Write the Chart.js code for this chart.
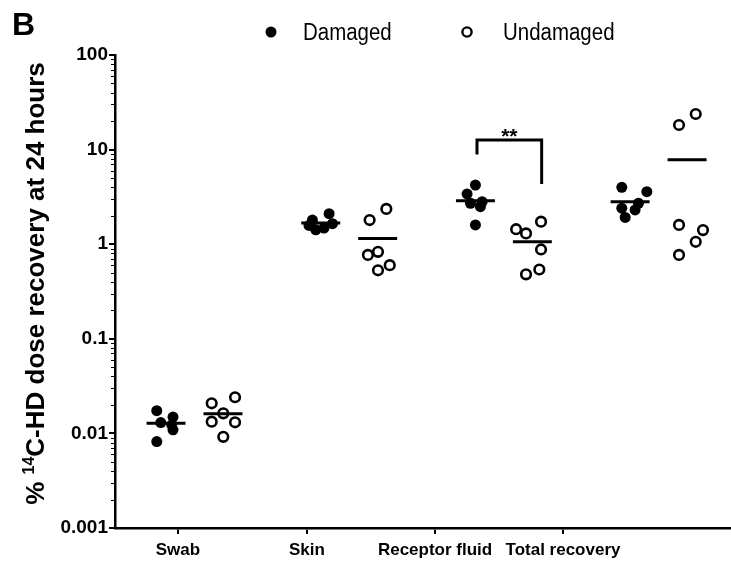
<!DOCTYPE html>
<html>
<head>
<meta charset="utf-8">
<script src="https://cdn.jsdelivr.net/npm/chart.js@4.4.1/dist/chart.umd.min.js"></script>
<style>
  body { margin: 0; background: #fff; }
  canvas { display: block; }
</style>
</head>
<body>
<canvas id="recovery" width="731" height="564"></canvas>
<script>
var categories = ["Swab", "Skin", "Receptor fluid", "Total recovery"];
var yTickValues = [0.001, 0.01, 0.1, 1, 10, 100];
var yTickLabels = ["0.001", "0.01", "0.1", "1", "10", "100"];

// % of applied dose recovered, one row per compartment, six donors each
var damaged = [
  [0.0174, 0.0130, 0.0149, 0.0123, 0.0109, 0.0082],
  [1.80, 2.10, 1.42, 1.48, 1.65, 1.58],
  [4.22, 3.40, 2.71, 2.81, 2.49, 1.60],
  [3.99, 3.59, 2.40, 2.71, 2.30, 1.92]
];
var undamaged = [
  [0.0208, 0.0241, 0.0163, 0.0133, 0.0131, 0.0092],
  [1.80, 2.36, 0.77, 0.83, 0.53, 0.60],
  [1.44, 1.30, 1.73, 0.88, 0.48, 0.54],
  [18.2, 23.8, 1.60, 1.41, 1.06, 0.77]
];

// sideways spread of the dots inside each column
var damagedJitter = [
  [-0.060, -0.034, 0.045, 0.037, 0.045, -0.060],
  [-0.054, 0.054, -0.032, 0.021, 0.076, -0.076],
  [0, -0.054, -0.032, 0.043, 0.032, 0],
  [-0.054, 0.108, -0.054, 0.054, 0.032, -0.032]
];
var undamagedJitter = [
  [-0.073, 0.078, 0.002, -0.073, 0.078, 0.002],
  [-0.052, 0.056, -0.063, 0.002, 0.002, 0.078],
  [-0.105, -0.041, 0.056, 0.056, -0.041, 0.045],
  [-0.052, 0.056, -0.052, 0.103, 0.056, -0.052]
];

// where the category names sit on the x axis
var xLabelPos = [-0.107, 0.727, 1.555, 2.382];

// ** bracket over receptor fluid: x ends, then y of left foot, top, right foot
var bracketX = [1.826, 2.244];
var bracketY = [8.9, 12.6, 4.33];

var GROUP_SHIFT = 0.184;
var MEAN_HALF = 0.126;
var FONT = "'Liberation Sans', Arial, sans-serif";

function mean(arr) {
  var s = 0;
  for (var i = 0; i < arr.length; i++) s += arr[i];
  return s / arr.length;
}

function points(values, jitter, shift) {
  var out = [];
  values.forEach(function (row, i) {
    row.forEach(function (v, j) {
      out.push({ x: i + shift + jitter[i][j], y: v });
    });
  });
  return out;
}

function meanLine(row, cx) {
  var m = mean(row);
  return {
    type: "scatter",
    showLine: true,
    data: [{ x: cx - MEAN_HALF, y: m }, { x: cx + MEAN_HALF, y: m }],
    borderColor: "#000",
    borderWidth: 3,
    pointRadius: 0,
    order: 0
  };
}

var datasets = [
  {
    label: "Damaged",
    data: points(damaged, damagedJitter, -GROUP_SHIFT),
    pointRadius: 5.5,
    pointBackgroundColor: "#000",
    pointBorderWidth: 0,
    order: 2
  },
  {
    label: "Undamaged",
    data: points(undamaged, undamagedJitter, GROUP_SHIFT),
    pointRadius: 4.8,
    pointBackgroundColor: "#fff",
    pointBorderColor: "#000",
    pointBorderWidth: 2.6,
    order: 1
  }
];

for (var i = 0; i < categories.length; i++) {
  datasets.push(meanLine(damaged[i], i - GROUP_SHIFT));
  datasets.push(meanLine(undamaged[i], i + GROUP_SHIFT));
}

datasets.push({
  type: "scatter",
  showLine: true,
  data: [
    { x: bracketX[0], y: bracketY[0] },
    { x: bracketX[0], y: bracketY[1] },
    { x: bracketX[1], y: bracketY[1] },
    { x: bracketX[1], y: bracketY[2] }
  ],
  borderColor: "#000",
  borderWidth: 3,
  pointRadius: 0,
  order: 0
});

// panel letter, legend, y title, minor log ticks and the significance stars
var decorations = {
  id: "decorations",
  afterDraw: function (chart) {
    var ctx = chart.ctx;
    var y = chart.scales.y;
    var x = chart.scales.x;
    var left = chart.chartArea.left;
    ctx.save();

    // minor ticks
    ctx.strokeStyle = "#000";
    ctx.lineWidth = 1;
    for (var k = -3; k < 2; k++) {
      for (var m = 2; m < 10; m++) {
        var py = Math.round(y.getPixelForValue(m * Math.pow(10, k))) + 0.5;
        ctx.beginPath();
        ctx.moveTo(left - 4, py);
        ctx.lineTo(left, py);
        ctx.stroke();
      }
    }

    ctx.fillStyle = "#000";

    // B
    ctx.font = "bold 32px " + FONT;
    ctx.textAlign = "left";
    ctx.textBaseline = "alphabetic";
    ctx.fillText("B", 12, 35);

    // legend
    ctx.beginPath();
    ctx.arc(271, 32, 5.5, 0, Math.PI * 2);
    ctx.fill();
    ctx.beginPath();
    ctx.arc(467, 32, 4.6, 0, Math.PI * 2);
    ctx.lineWidth = 2.4;
    ctx.stroke();
    ctx.font = "23px " + FONT;
    [["Damaged", 303], ["Undamaged", 503]].forEach(function (it) {
      ctx.save();
      ctx.translate(it[1], 40);
      ctx.scale(0.89, 1);
      ctx.fillText(it[0], 0, 0);
      ctx.restore();
    });

    // y title with superscript 14
    var big = "bold 26px " + FONT;
    var small = "bold 16px " + FONT;
    var parts = [["% ", big, 0], ["14", small, -10], ["C-HD dose recovery at 24 hours", big, 0]];
    var total = 0;
    parts.forEach(function (p) {
      ctx.font = p[1];
      p.push(ctx.measureText(p[0]).width);
      total += p[3];
    });
    ctx.save();
    ctx.translate(44, (y.top + y.bottom) / 2 - 8);
    ctx.rotate(-Math.PI / 2);
    var cx = -total / 2;
    parts.forEach(function (p) {
      ctx.font = p[1];
      ctx.fillText(p[0], cx, p[2]);
      cx += p[3];
    });
    ctx.restore();

    // significance stars
    ctx.font = "bold 21px " + FONT;
    ctx.textAlign = "center";
    var sx = (x.getPixelForValue(bracketX[0]) + x.getPixelForValue(bracketX[1])) / 2;
    ctx.fillText("**", sx, y.getPixelForValue(bracketY[1]) + 3);

    ctx.restore();
  }
};

var ctx = document.getElementById("recovery").getContext("2d");
new Chart(ctx, {
  type: "scatter",
  data: { datasets: datasets },
  options: {
    responsive: false,
    animation: false,
    events: [],
    layout: { autoPadding: false, padding: { top: 55, left: 0, right: 0, bottom: 0 } },
    plugins: {
      legend: { display: false },
      tooltip: { enabled: false }
    },
    scales: {
      x: {
        type: "linear",
        min: -0.514,
        max: 3.468,
        afterFit: function (scale) { scale.height = 36; },
        afterBuildTicks: function (scale) {
          scale.ticks = xLabelPos.map(function (v) { return { value: v }; });
        },
        grid: { display: true, drawOnChartArea: false, drawTicks: true, tickLength: 6, color: "#000", lineWidth: 2 },
        border: { display: true, color: "#000", width: 2.5 },
        ticks: {
          autoSkip: false,
          maxRotation: 0,
          padding: 6,
          color: "#000",
          font: { family: FONT, size: 17, weight: "bold" },
          callback: function (value, index) { return categories[index]; }
        }
      },
      y: {
        type: "logarithmic",
        min: 0.001,
        max: 100,
        afterFit: function (scale) { scale.width = 115; },
        afterBuildTicks: function (scale) {
          scale.ticks = yTickValues.map(function (v) { return { value: v }; });
        },
        grid: { display: true, drawOnChartArea: false, drawTicks: true, tickLength: 6, color: "#000", lineWidth: 2 },
        border: { display: true, color: "#000", width: 2.5 },
        ticks: {
          autoSkip: false,
          padding: 1,
          color: "#000",
          font: { family: FONT, size: 19, weight: "bold" },
          callback: function (value, index) { return yTickLabels[index]; }
        }
      }
    }
  },
  plugins: [decorations]
});
</script>
</body>
</html>
